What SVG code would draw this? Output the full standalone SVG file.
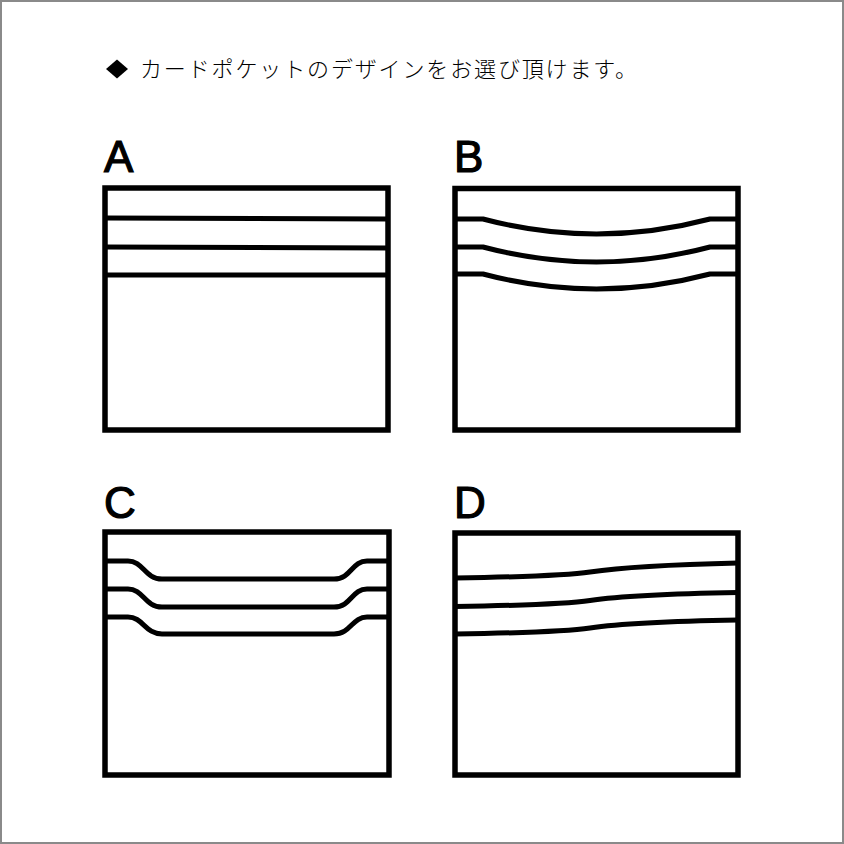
<svg xmlns="http://www.w3.org/2000/svg" width="844" height="844" viewBox="0 0 844 844">
<style>
.box{fill:none;stroke:#000;stroke-width:5.5}
.ln{fill:none;stroke:#000;stroke-width:5;stroke-linejoin:round}
.lbl{font-family:"Liberation Sans",Arial,sans-serif;font-size:44px;fill:#000;stroke:#000;stroke-width:1.2}
.ttl{font-family:"Noto Sans CJK JP","Noto Sans",sans-serif;font-size:22px;font-weight:300;fill:#000}
</style>
<rect x="0" y="0" width="844" height="844" fill="#fff"/>
<rect x="1" y="1" width="842" height="842" fill="none" stroke="#8a8a8a" stroke-width="2"/>
<g id="title">
<polygon points="117,59.5 128,69 117,78.5 106,69" fill="#000"/>
<text class="ttl" x="140" y="77" textLength="497" lengthAdjust="spacing">カードポケットのデザインをお選び頂けます。</text>
</g>
<g id="A">
<text class="lbl" x="104" y="172">A</text>
<rect class="box" x="105" y="188" width="283" height="242"/>
</g>
<g id="B">
<text class="lbl" x="454" y="172">B</text>
<rect class="box" x="455" y="188.5" width="283" height="241.5"/>
</g>
<g id="C">
<text class="lbl" x="104" y="518">C</text>
<rect class="box" x="105" y="532" width="284" height="243"/>
</g>
<g id="D">
<text class="lbl" x="454" y="518">D</text>
<rect class="box" x="455" y="533" width="283" height="242"/>
</g>
<g id="connectors">
<path class="ln" d="M105,218 L388,219"/>
<path class="ln" d="M105,247 L388,248"/>
<path class="ln" d="M105,275 L388,275"/>
<path class="ln" d="M455,219 L483,219 Q596.5,249 710,219 L738,219"/>
<path class="ln" d="M455,247 L483,247 Q596.5,277 710,247 L738,247"/>
<path class="ln" d="M455,274 L483,274 Q596.5,304 710,274 L738,274"/>
<path class="ln" d="M105,561 L128,561 C143,561 145,579 162,579 L334,579 C351,579 352,561 367,561 L389,561"/>
<path class="ln" d="M105,589 L128,589 C143,589 145,607 162,607 L334,607 C351,607 352,589 367,589 L389,589"/>
<path class="ln" d="M105,617 L128,617 C143,617 145,634 162,634 L334,634 C351,634 352,617 367,617 L389,617"/>
<path class="ln" d="M455,578 C520,577 570,575 590,572 C610,569 650,565 738,563"/>
<path class="ln" d="M455,606.5 C520,605.5 570,603.5 590,600.5 C610,597.5 650,594 738,592.5"/>
<path class="ln" d="M455,634 C520,633 570,631 590,628 C610,625 650,621.5 738,620"/>
</g>
</svg>
